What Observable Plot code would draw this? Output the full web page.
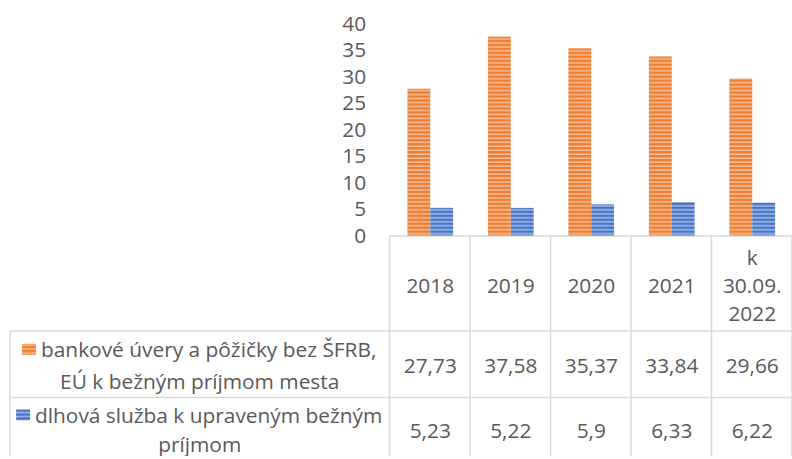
<!DOCTYPE html>
<html><head><meta charset="utf-8">
<script src="https://cdn.jsdelivr.net/npm/d3@7"></script>
<script src="https://cdn.jsdelivr.net/npm/@observablehq/plot@0.6"></script>
<style>html,body{margin:0;padding:0;background:#fff;overflow:hidden}</style>
</head><body><div id="chart"></div>
<script>
// ---- data ----
const categories = ["2018", "2019", "2020", "2021", "k 30.09. 2022"];
const categoryLabels = ["2018", "2019", "2020", "2021", "k\n30.09.\n2022"];
const seriesNames = [
  "bankové úvery a pôžičky bez ŠFRB, EÚ k bežným príjmom mesta",
  "dlhová služba k upraveným bežným príjmom"
];
const seriesLabelLines = [
  ["bankové úvery a pôžičky bez ŠFRB,", "EÚ k bežným príjmom mesta"],
  ["dlhová služba k upraveným bežným", "príjmom"]
];
const loans = [27.73, 37.58, 35.37, 33.84, 29.66];
const debtService = [5.23, 5.22, 5.9, 6.33, 6.22];
const yTicks = [0, 5, 10, 15, 20, 25, 30, 35, 40];

const seriesValues = [loans, debtService];
const rows = categories.flatMap((c, i) => seriesNames.map((s, k) => ({cat: c, label: categoryLabels[i], series: s, value: seriesValues[k][i]})));

const fmt = v => String(v).replace(".", ",");
const textColor = "#595959";
const gridColor = "#D9D9D9";
const fontSize = 21;

const plot = Plot.plot({
  width: 797,
  height: 459,
  marginLeft: 392,
  marginRight: 0,
  marginTop: 24,
  marginBottom: 222,
  style: {fontFamily: "'Open Sans', sans-serif", fontSize: fontSize + "px", color: textColor, background: "white", overflow: "visible"},
  facet: {data: rows, x: "cat"},
  fx: {domain: categories, padding: 0, axis: null, label: null},
  x: {domain: seriesNames, paddingInner: 0, paddingOuter: 0.76, axis: null},
  y: {domain: [0, 40], ticks: yTicks, tickSize: 0, tickPadding: 24, tickFormat: d => String(d), label: null},
  color: {type: "ordinal", domain: seriesNames, range: ["url(#stripeOrange)", "url(#stripeBlue)"]},
  marks: [
    Plot.barY(rows, {x: "series", y: "value", fill: "series"}),
    // header row: category labels
    Plot.text(rows, {filter: d => d.series === seriesNames[0], text: "label", frameAnchor: "bottom", dy: 48, lineAnchor: "middle", lineHeight: 1.35, fill: textColor}),
    // value rows
    Plot.text(rows, {filter: d => d.series === seriesNames[0], text: d => fmt(d.value), frameAnchor: "bottom", dy: 131, lineAnchor: "middle", fill: textColor}),
    Plot.text(rows, {filter: d => d.series === seriesNames[1], text: d => fmt(d.value), frameAnchor: "bottom", dy: 197, lineAnchor: "middle", fill: textColor})
  ]
});

document.getElementById("chart").appendChild(plot);

const svg = d3.select(plot.tagName.toLowerCase() === "svg" ? plot : plot.querySelector("svg"));
svg.attr("overflow", "visible");

// stripe patterns
const defs = svg.insert("defs", ":first-child");
function stripe(id, dark, light) {
  const p = defs.append("pattern").attr("id", id).attr("patternUnits", "userSpaceOnUse").attr("width", 8).attr("height", 4);
  p.append("rect").attr("width", 8).attr("height", 4).attr("fill", dark);
  p.append("rect").attr("y", 2.5).attr("width", 8).attr("height", 1.5).attr("fill", light);
}
stripe("stripeOrange", "#ED7D31", "#F8BE98");
stripe("stripeBlue", "#4472C4", "#A9C0EA");

// data table grid via the fx scale
const fxs = plot.scale("fx");
const band = d3.scaleBand().domain(fxs.domain).range(fxs.range).padding(0);
const yS = plot.scale("y");
const y0 = d3.scaleLinear().domain(yS.domain).range(yS.range)(0);
const colEdges = categories.map(c => band(c)).concat([band(categories[categories.length - 1]) + band.bandwidth()]);
const left = 10, right = colEdges[colEdges.length - 1];
const rowTop1 = y0 + 96, rowTop2 = y0 + 163, bottom = 459;
const g = svg.insert("g", "g").attr("stroke", gridColor).attr("stroke-width", 1.5);
g.append("line").attr("x1", colEdges[0]).attr("x2", right).attr("y1", y0 + 0.5).attr("y2", y0 + 0.5);
g.append("line").attr("x1", left).attr("x2", right).attr("y1", rowTop1).attr("y2", rowTop1);
g.append("line").attr("x1", left).attr("x2", right).attr("y1", rowTop2).attr("y2", rowTop2);
g.append("line").attr("x1", left).attr("x2", left).attr("y1", rowTop1).attr("y2", bottom);
colEdges.forEach(x => g.append("line").attr("x1", x).attr("x2", x).attr("y1", y0).attr("y2", bottom));

// row headers (legend keys + series names)
const cellCenter = (left + colEdges[0]) / 2;
const lineYs = [[352, 384], [418, 448]];
seriesLabelLines.forEach((lines, k) => {
  const t1 = svg.append("text").attr("x", cellCenter + 9).attr("y", lineYs[k][0]).attr("dy", "0.35em")
    .attr("text-anchor", "middle").attr("fill", textColor).attr("font-size", fontSize).text(lines[0]);
  const w = t1.node().getComputedTextLength();
  svg.append("rect").attr("x", cellCenter + 9 - w / 2 - 19).attr("y", lineYs[k][0] - 6).attr("width", 14).attr("height", 11)
    .attr("fill", `url(#${k === 0 ? "stripeOrange" : "stripeBlue"})`);
  svg.append("text").attr("x", cellCenter).attr("y", lineYs[k][1]).attr("dy", "0.35em")
    .attr("text-anchor", "middle").attr("fill", textColor).attr("font-size", fontSize).text(lines[1]);
});
</script>
</body></html>
